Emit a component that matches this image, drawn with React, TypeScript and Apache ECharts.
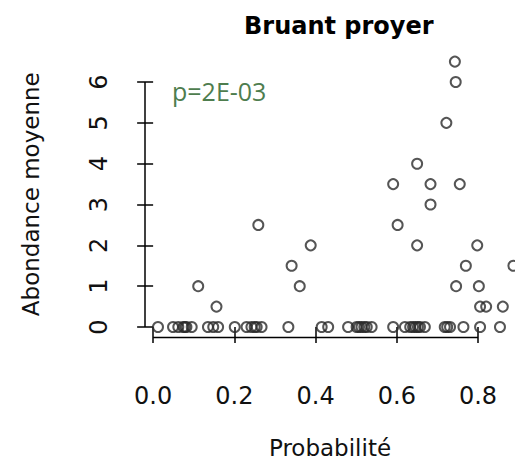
import React, { useEffect, useRef } from "react";
import * as echarts from "echarts";

// Probabilité values and abondance moyenne values
const probZero: number[] = [
  0.012, 0.049, 0.062, 0.074, 0.078, 0.082, 0.095, 0.135, 0.148, 0.16, 0.201,
  0.23, 0.242, 0.25, 0.255, 0.267, 0.333, 0.415, 0.431, 0.48, 0.501, 0.507,
  0.513, 0.52, 0.526, 0.538, 0.591, 0.62, 0.633, 0.64, 0.646, 0.652, 0.657,
  0.669, 0.718, 0.724, 0.731, 0.764, 0.805, 0.854,
];
const probPos: number[] = [
  0.111, 0.156, 0.259, 0.341, 0.361, 0.388, 0.591, 0.602, 0.65, 0.65, 0.683,
  0.683, 0.743, 0.745, 0.722, 0.755, 0.746, 0.77, 0.798, 0.802, 0.805, 0.82,
  0.861, 0.887,
];
const abondPos: number[] = [
  1, 0.5, 2.5, 1.5, 1, 2, 3.5, 2.5, 4, 2, 3.5, 3, 6.5, 6, 5, 3.5, 1, 1.5, 2, 1,
  0.5, 0.5, 0.5, 1.5,
];
const xTicks: number[] = [0, 0.2, 0.4, 0.6, 0.8];
const yTicks: number[] = [0, 1, 2, 3, 4, 5, 6];
const title = "Bruant proyer";
const pText = "p=2E-03";
const xName = "Probabilité";
const yName = "Abondance moyenne";

const X_MIN = -0.02;
const X_MAX = 0.891;
const Y_MIN = -0.257;
const Y_MAX = 6.76;

export default function App() {
  const ref = useRef<HTMLDivElement>(null);
  useEffect(() => {
    if (!ref.current) return;
    const chart = echarts.init(ref.current, undefined, { renderer: "svg" });
    const points: number[][] = [
      ...probZero.map((p) => [p, 0]),
      ...probPos.map((p, i) => [p, abondPos[i]]),
    ];
    const tickFont = {
      fontFamily: "DejaVu Sans",
      fontSize: 24,
      color: "#111",
    };
    chart.setOption({
      animation: false,
      backgroundColor: "#ffffff",
      title: {
        text: title,
        left: 239,
        top: 9,
        textStyle: {
          fontFamily: "DejaVu Sans",
          fontWeight: "bold",
          fontSize: 24,
          color: "#000",
        },
      },
      graphic: [
        {
          type: "text",
          left: 172,
          top: 78,
          style: {
            text: pText,
            fill: "#4e7d4e",
            font: "25px 'Open Sans'",
          },
        },
      ],
      grid: { left: 145, right: 0, top: 51, bottom: 128.5 },
      xAxis: {
        type: "value",
        min: X_MIN,
        max: X_MAX,
        axisLine: { show: false },
        splitLine: { show: false },
        axisTick: {
          show: true,
          customValues: xTicks,
          length: 16,
          lineStyle: { color: "#000", width: 1.5 },
        },
        axisLabel: {
          customValues: xTicks,
          formatter: (v: number) => v.toFixed(1),
          margin: 46,
          ...tickFont,
        },
        name: xName,
        nameLocation: "middle",
        nameGap: 99,
        nameTextStyle: { fontFamily: "DejaVu Sans", fontSize: 23, color: "#111" },
      },
      yAxis: {
        type: "value",
        min: Y_MIN,
        max: Y_MAX,
        axisLine: { show: false },
        splitLine: { show: false },
        axisTick: {
          show: true,
          customValues: yTicks,
          length: 16,
          lineStyle: { color: "#000", width: 1.5 },
        },
        axisLabel: {
          customValues: yTicks,
          rotate: 90,
          margin: 34,
          ...tickFont,
        },
        name: yName,
        nameLocation: "middle",
        nameGap: 103,
        nameRotate: 90,
        nameTextStyle: { fontFamily: "DejaVu Sans", fontSize: 23, color: "#111" },
      },
      series: [
        {
          type: "line",
          data: [
            [X_MIN, yTicks[0]],
            [X_MIN, yTicks[yTicks.length - 1]],
          ],
          symbol: "none",
          clip: false,
          lineStyle: { color: "#000", width: 1.5 },
          silent: true,
        },
        {
          type: "line",
          data: [
            [xTicks[0], Y_MIN],
            [xTicks[xTicks.length - 1], Y_MIN],
          ],
          symbol: "none",
          clip: false,
          lineStyle: { color: "#000", width: 1.5 },
          silent: true,
        },
        {
          type: "scatter",
          data: points,
          symbol: "circle",
          symbolSize: 10,
          clip: false,
          itemStyle: {
            color: "rgba(0,0,0,0)",
            borderColor: "#2a2a2a",
            borderWidth: 2,
          },
        },
      ],
    });
    return () => chart.dispose();
  }, []);
  return (
    <div
      ref={ref}
      style={{ position: "fixed", left: 0, top: 0, width: 515, height: 466 }}
    />
  );
}
